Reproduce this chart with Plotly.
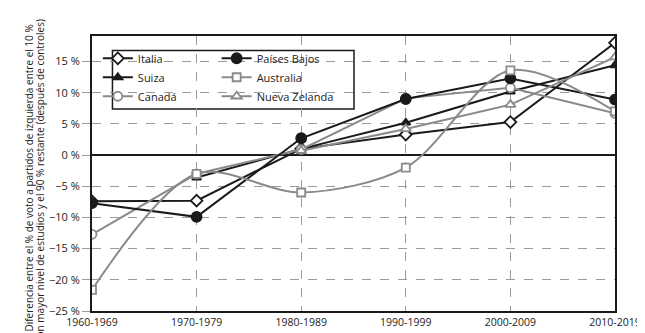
import plotly.graph_objects as go

periods = ["1960-1969", "1970-1979", "1980-1989", "1990-1999", "2000-2009", "2010-2019"]
italia = [-7.4, -7.3, 1.0, 3.3, 5.3, 18.0]
suiza = [None, -3.6, 1.0, 5.2, 10.2, 14.4]
canada = [-12.7, -3.0, 0.9, 9.1, 10.8, 6.7]
paises_bajos = [-7.7, -9.9, 2.7, 9.0, 12.3, 8.9]
australia = [-21.6, -3.0, -6.0, -2.0, 13.6, 7.0]
nueva_zelanda = [None, None, 0.7, 4.2, 8.1, 15.7]

ytick_vals = [-25, -20, -15, -10, -5, 0, 5, 10, 15]
ytick_text = ["\u221225 %", "\u221220 %", "\u221215 %", "\u221210 %", "\u22125 %", "0 %", "5 %", "10 %", "15 %"]

title_line1 = "Diferencia entre el % de voto a partidos de izquierda entre el 10 %"
title_line2 = "con mayor nivel de estudios y el 90 % restante (después de controles)"

BLACK = "#1a1a1a"
GRAY = "#8a8a8a"
x = list(range(len(periods)))

fig = go.Figure()

def add(name, y, color, symbol, fill, size, legend, shape="linear", smoothing=1.0):
    fig.add_trace(go.Scatter(
        x=x, y=y, name=name, mode="lines+markers",
        line=dict(color=color, width=2, shape=shape, smoothing=smoothing),
        marker=dict(symbol=symbol, size=size, color=fill, line=dict(color=color, width=1.8)),
        legend=legend, connectgaps=False,
    ))

add("Italia", italia, BLACK, "diamond", "white", 9, "legend")
add("Suiza", suiza, BLACK, "triangle-up", BLACK, 8, "legend")
add("Canadá", canada, GRAY, "circle", "white", 9, "legend")
add("Países Bajos", paises_bajos, BLACK, "circle", BLACK, 10, "legend2")
add("Australia", australia, GRAY, "square", "white", 8, "legend2", shape="spline", smoothing=0.9)
add("Nueva Zelanda", nueva_zelanda, GRAY, "triangle-up", "white", 9, "legend2")

L, R, T, B = 84, 24, 28, 22
W, H = 645, 333
pw, ph = W - L - R, H - T - B

def px(xp):
    return (xp - L) / pw

def py(yp):
    return (H - B - yp) / ph

font = dict(family="Open Sans, Liberation Sans, sans-serif", size=11, color="#222")

fig.update_layout(
    width=W, height=H,
    margin=dict(l=L, r=R, t=T, b=B),
    paper_bgcolor="white", plot_bgcolor="white",
    font=font,
    showlegend=True,
    legend=dict(x=px(90), y=py(36), xanchor="left", yanchor="top",
                bgcolor="rgba(0,0,0,0)", borderwidth=0, font=dict(size=11),
                itemwidth=30, tracegroupgap=0),
    legend2=dict(x=px(212), y=py(36), xanchor="left", yanchor="top",
                 bgcolor="rgba(0,0,0,0)", borderwidth=0, font=dict(size=11),
                 itemwidth=30, tracegroupgap=0),
    xaxis=dict(range=[0, 5], tickvals=x, ticktext=periods, showgrid=True,
               gridcolor="#9a9a9a", griddash="dash", gridwidth=1,
               showline=True, linecolor=BLACK, linewidth=2, mirror=True,
               zeroline=False, ticks="", tickfont=dict(size=10.5),
               ticklabeloverflow="allow"),
    yaxis=dict(range=[-25, 19.1], tickvals=ytick_vals, ticktext=ytick_text,
               showgrid=True, gridcolor="#9a9a9a", griddash="dash", gridwidth=1,
               showline=True, linecolor=BLACK, linewidth=2, mirror=True,
               zeroline=True, zerolinecolor=BLACK, zerolinewidth=2,
               ticks="outside", ticklen=8, tickcolor="#9a9a9a", tickwidth=1,
               tickfont=dict(size=11)),
    shapes=[dict(type="rect", xref="paper", yref="paper",
                 x0=px(105), x1=px(353), y0=py(103), y1=py(43),
                 line=dict(color=BLACK, width=1.5), fillcolor="white", layer="below")],
    annotations=[
        dict(text=title_line1, xref="paper", yref="paper", x=px(19), y=py(174),
             xanchor="center", yanchor="middle", textangle=-90, showarrow=False,
             font=dict(size=10, color="#222")),
        dict(text=title_line2, xref="paper", yref="paper", x=px(30), y=py(177),
             xanchor="center", yanchor="middle", textangle=-90, showarrow=False,
             font=dict(size=10, color="#222")),
    ],
)

fig.write_html("out.html")
